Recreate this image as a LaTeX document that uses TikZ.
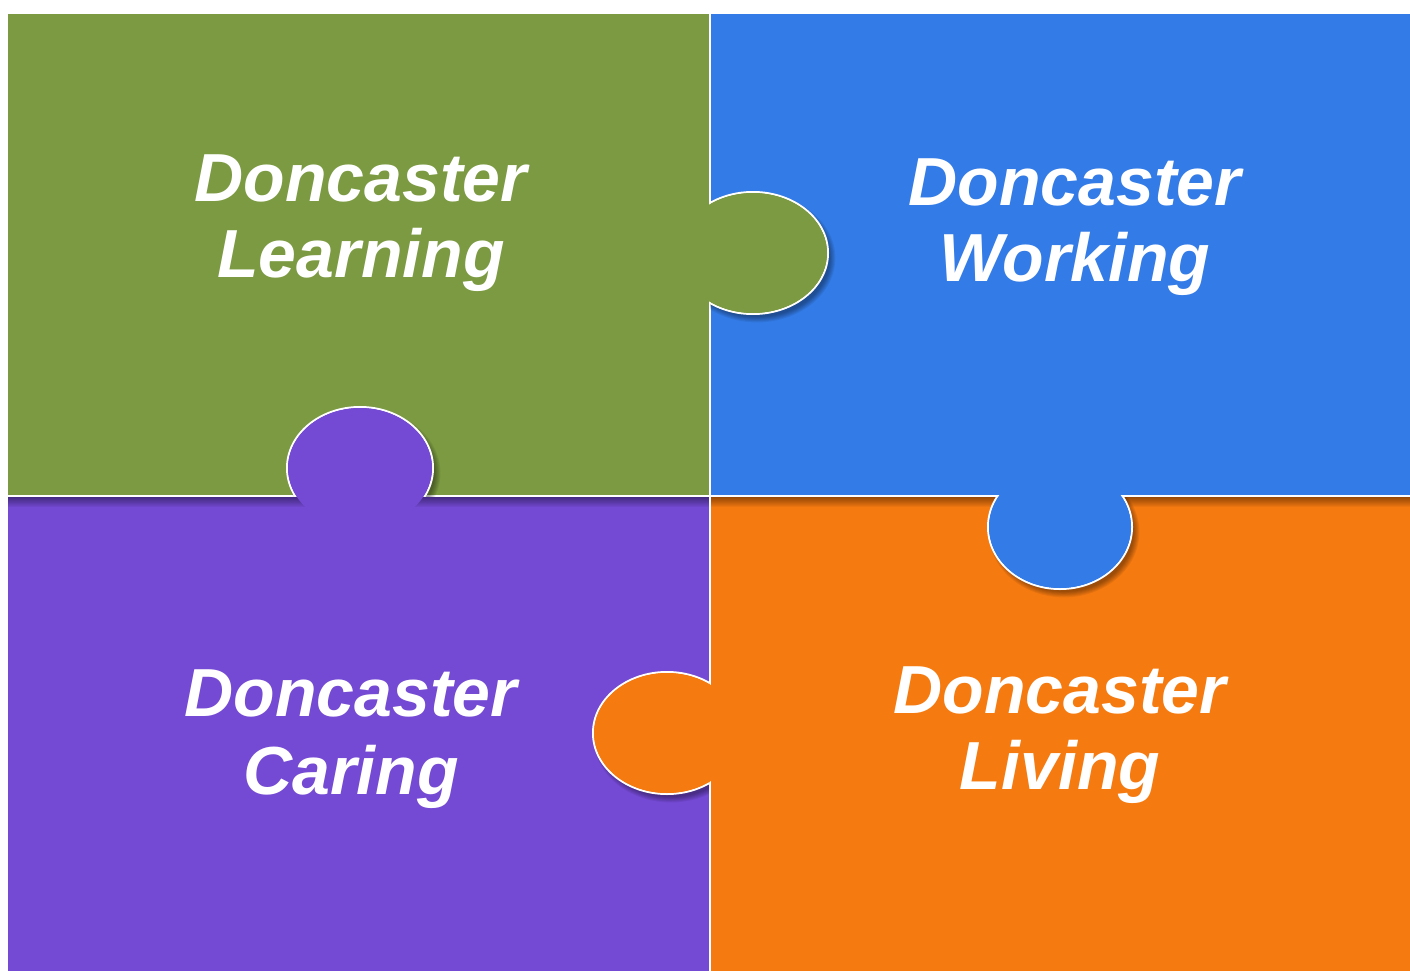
\documentclass[tikz,border=0pt]{standalone}
\usepackage{fontspec}
\setmainfont{Liberation Sans}
\definecolor{pgreen}{HTML}{7B9A41}
\definecolor{pblue}{HTML}{337BE6}
\definecolor{ppurple}{HTML}{7449D3}
\definecolor{porange}{HTML}{F57A10}
\tikzset{
  txt/.style={text=white, font=\fontsize{68}{78}\selectfont\bfseries\itshape, anchor=base, inner sep=0pt},
  seam/.style={white, line width=2pt},
  taboutline/.style={white, line width=2pt},
}
\newcommand{\tabshadow}[4]{% cx, cy, rx, ry
  \foreach \k in {0,...,6}{
    \fill[black, opacity=0.06] (#1+4,#2+5) ellipse [x radius={#3+\k*0.9-2}, y radius={#4+\k*0.9-2}];
  }%
}
\begin{document}
\begin{tikzpicture}[x=1pt,y=-1pt]
\useasboundingbox (0,0) rectangle (1410,971);
\fill[white] (0,0) rectangle (1410,971);
% pieces
\fill[pgreen]  (8,14)    rectangle (710,496);
\fill[pblue]   (710,14)  rectangle (1410,496);
\fill[ppurple] (8,496)   rectangle (710,971);
\fill[porange] (710,496) rectangle (1410,971);
% shadow below horizontal seam
\foreach \i in {0,...,9}{
  \fill[black, opacity=0.045] (8,497) rectangle (1410,507-\i);
}
% seams
\draw[seam] (8,496) -- (1410,496);
\draw[seam] (710,14) -- (710,971);
% green tab into blue
\begin{scope}
  \clip (710,14) rectangle (1410,496);
  \tabshadow{753}{253}{75}{61}
  \fill[pgreen] (753,253) ellipse [x radius=75, y radius=61];
  \draw[taboutline] (753,253) ellipse [x radius=75, y radius=61];
\end{scope}
\fill[pgreen] (753,253) ellipse [x radius=74, y radius=60];
% purple tab into green
\begin{scope}
  \clip (8,14) rectangle (710,496);
  \tabshadow{360}{468}{73}{61}
  \fill[ppurple] (360,468) ellipse [x radius=73, y radius=61];
  \draw[taboutline] (360,468) ellipse [x radius=73, y radius=61];
\end{scope}
\fill[ppurple] (360,468) ellipse [x radius=72, y radius=60];
% blue tab into orange
\begin{scope}
  \clip (710,497) rectangle (1410,971);
  \tabshadow{1060}{527}{72}{62}
  \fill[pblue] (1060,527) ellipse [x radius=72, y radius=62];
  \draw[taboutline] (1060,527) ellipse [x radius=72, y radius=62];
\end{scope}
\fill[pblue] (1060,527) ellipse [x radius=71, y radius=61];
% orange tab into purple
\begin{scope}
  \clip (8,497) rectangle (709,971);
  \tabshadow{667}{733}{74}{61}
  \fill[porange] (667,733) ellipse [x radius=74, y radius=61];
  \draw[taboutline] (667,733) ellipse [x radius=74, y radius=61];
\end{scope}
\fill[porange] (667,733) ellipse [x radius=73, y radius=60];
% texts
\node[txt] (learnA) at (361,201) {Doncaster};
\node[txt] (learnB) at (361,277) {Learning};
\node[txt] (workA) at (1075,205) {Doncaster};
\node[txt] (workB) at (1075,281) {Working};
\node[txt] (careA) at (351,716) {Doncaster};
\node[txt] (careB) at (351,794) {Caring};
\node[txt] (liveA) at (1060,713) {Doncaster};
\node[txt] (liveB) at (1060,789) {Living};
\end{tikzpicture}
\end{document}
